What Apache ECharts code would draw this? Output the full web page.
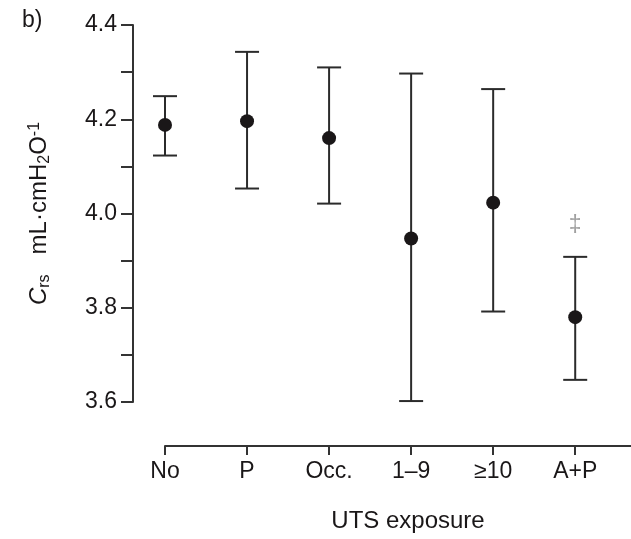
<!DOCTYPE html>
<html>
<head>
<meta charset="utf-8">
<script src="https://cdn.jsdelivr.net/npm/echarts@6/dist/echarts.min.js"></script>
<style>
  html, body { margin: 0; padding: 0; background: #fff; }
  #chart { width: 631px; height: 539px; }
</style>
</head>
<body>
<div id="chart"></div>
<script>
// categories along the x axis
const categories = ['No', 'P', 'Occ.', '1–9', '≥10', 'A+P'];
// mean and interval ends
const means = [4.188, 4.196, 4.160, 3.947, 4.023, 3.780];
const lowers = [4.123, 4.053, 4.021, 3.602, 3.792, 3.647];
const uppers = [4.249, 4.343, 4.310, 4.297, 4.264, 3.908];
// y ticks
const yTicks = [3.6, 3.7, 3.8, 3.9, 4.0, 4.1, 4.2, 4.3, 4.4];
const yLabels = [3.6, 3.8, 4.0, 4.2, 4.4];
// significance mark above A+P
const markPos = [[5, 3.975]];

const ink = '#1a1718';
const font = '"Liberation Sans", Arial, sans-serif';

const chart = echarts.init(document.getElementById('chart'));

const barData = categories.map((c, i) => [i, lowers[i], uppers[i]]);
const pointData = categories.map((c, i) => [i, means[i]]);

const option = {
  animation: false,
  grid: { left: 165, right: 0, top: 25, bottom: 137 },
  xAxis: {
    type: 'value',
    min: 0,
    max: 5.68,
    offset: 44,
    splitLine: { show: false },
    axisLine: { show: true, onZero: false, lineStyle: { color: '#333', width: 2 } },
    axisTick: { show: true, length: 9, lineStyle: { color: '#333', width: 2 }, customValues: [0, 1, 2, 3, 4, 5] },
    axisLabel: {
      customValues: [0, 1, 2, 3, 4, 5],
      margin: 14,
      color: ink,
      fontFamily: font,
      fontSize: 23,
      formatter: v => categories[Math.round(v)]
    },
    name: 'UTS exposure',
    nameLocation: 'middle',
    nameGap: 63,
    nameTextStyle: { color: ink, fontFamily: font, fontSize: 24, padding: [0, 0, 0, 20] }
  },
  yAxis: {
    type: 'value',
    min: 3.6,
    max: 4.4,
    offset: 32,
    splitLine: { show: false },
    axisLine: { show: true, onZero: false, lineStyle: { color: '#333', width: 2 } },
    axisTick: { show: true, length: 12, lineStyle: { color: '#333', width: 2 }, customValues: yTicks },
    axisLabel: {
      customValues: yLabels,
      margin: 16,
      color: ink,
      fontFamily: font,
      fontSize: 23,
      formatter: v => v.toFixed(1)
    },
    name: '{i|C}{sub|rs}{n|   mL·cmH}{sub|2}{n|O}{sup|-1}',
    nameLocation: 'middle',
    nameRotate: 90,
    nameGap: 78,
    nameTextStyle: {
      color: ink,
      fontFamily: font,
      rich: {
        i: { fontStyle: 'italic', fontSize: 24, lineHeight: 32, color: ink, fontFamily: font },
        n: { fontSize: 24, lineHeight: 32, color: ink, fontFamily: font },
        sub: { fontSize: 16, lineHeight: 32, verticalAlign: 'bottom', padding: [0, 0, 2, 0], color: ink, fontFamily: font },
        sup: { fontSize: 16, lineHeight: 32, verticalAlign: 'top', padding: [4, 0, 0, 0], color: ink, fontFamily: font }
      }
    }
  },
  graphic: [
    { type: 'text', left: 22, top: 9, style: { text: 'b)', fontSize: 23, fontFamily: font, fill: ink } }
  ],
  series: [
    {
      type: 'custom',
      data: barData,
      renderItem: function (params, api) {
        const x = api.value(0);
        const lo = api.coord([x, api.value(1)]);
        const hi = api.coord([x, api.value(2)]);
        const half = 12;
        const style = { stroke: '#2b2b2b', lineWidth: 2 };
        return {
          type: 'group',
          children: [
            { type: 'line', shape: { x1: lo[0], y1: lo[1], x2: hi[0], y2: hi[1] }, style },
            { type: 'line', shape: { x1: hi[0] - half, y1: hi[1], x2: hi[0] + half, y2: hi[1] }, style },
            { type: 'line', shape: { x1: lo[0] - half, y1: lo[1], x2: lo[0] + half, y2: lo[1] }, style }
          ]
        };
      },
      z: 2
    },
    {
      type: 'scatter',
      data: pointData,
      symbol: 'circle',
      symbolSize: 14,
      itemStyle: { color: ink, opacity: 1 },
      z: 3
    },
    {
      type: 'scatter',
      data: markPos,
      symbolSize: 0,
      label: {
        show: true,
        position: 'inside',
        formatter: '‡',
        fontSize: 23,
        fontFamily: font,
        color: '#888'
      },
      z: 3
    }
  ]
};

chart.setOption(option);
</script>
</body>
</html>
